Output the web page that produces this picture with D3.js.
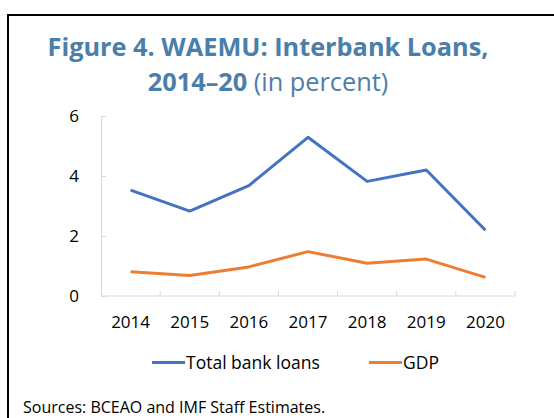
<!DOCTYPE html>
<html>
<head>
<meta charset="utf-8">
<script src="https://cdn.jsdelivr.net/npm/d3@7"></script>
<style>
  body { margin: 0; background: #fff; }
  svg { display: block; font-family: 'Open Sans', sans-serif; }
</style>
</head>
<body>
<svg width="554" height="418"></svg>
<script>
const years = ['2014', '2015', '2016', '2017', '2018', '2019', '2020'];
const totalBankLoans = [3.53, 2.83, 3.68, 5.29, 3.82, 4.2, 2.19];
const gdp = [0.81, 0.68, 0.97, 1.48, 1.09, 1.23, 0.62];
const yTicks = [0, 2, 4, 6];
const seriesNames = ['Total bank loans', 'GDP'];
const colors = ['#4472c4', '#ed7d31'];

const svg = d3.select('svg');

// frame
svg.append('rect')
  .attr('x', 8).attr('y', 15)
  .attr('width', 600).attr('height', 500)
  .attr('fill', 'none').attr('stroke', '#000').attr('stroke-width', 2);

// title
const title = svg.append('g').attr('fill', '#4a7eab').attr('text-anchor', 'middle');
title.append('text')
  .attr('x', 268).attr('y', 56)
  .attr('font-size', 25.3).attr('font-weight', 700)
  .text('Figure 4. WAEMU: Interbank Loans,');
const t2 = title.append('text').attr('x', 268).attr('y', 91).attr('font-size', 25.3);
t2.append('tspan').attr('font-weight', 700).text('2014–20');
t2.append('tspan').attr('font-weight', 400).text(' (in percent)');

const margin = { left: 101, right: 515, top: 116, bottom: 296 };

const x = d3.scaleBand().domain(years).range([margin.left, margin.right]);
const y = d3.scaleLinear().domain([0, 6]).range([margin.bottom, margin.top]);

const axisColor = '#d9d9d9';

// y axis
const yAxis = svg.append('g')
  .attr('transform', `translate(${margin.left},0)`)
  .call(d3.axisRight(y).tickValues(yTicks).tickSize(5).tickSizeOuter(0).tickFormat(d3.format('d')));
yAxis.select('.domain').attr('stroke', axisColor);
yAxis.selectAll('.tick line').attr('stroke', axisColor);
yAxis.selectAll('.tick text')
  .attr('x', -22).attr('text-anchor', 'end')
  .attr('font-size', 17).attr('fill', '#000')
  .attr('font-family', "'Open Sans', sans-serif");

// x axis: ticks at category boundaries
const xAxisG = svg.append('g');
xAxisG.append('line')
  .attr('x1', margin.left).attr('x2', margin.right)
  .attr('y1', margin.bottom).attr('y2', margin.bottom)
  .attr('stroke', axisColor);
xAxisG.selectAll('.bt')
  .data(years.slice(1).concat(['end']))
  .enter().append('line')
  .attr('x1', (d, i) => i < years.length - 1 ? x(d) : margin.right)
  .attr('x2', (d, i) => i < years.length - 1 ? x(d) : margin.right)
  .attr('y1', margin.bottom - 5).attr('y2', margin.bottom)
  .attr('stroke', axisColor);
xAxisG.selectAll('.xl')
  .data(years)
  .enter().append('text')
  .attr('x', (d) => x(d) + x.bandwidth() / 2)
  .attr('y', 328)
  .attr('text-anchor', 'middle')
  .attr('font-size', 17)
  .text((d) => d);

// lines
const line = d3.line()
  .x((d, i) => x(years[i]) + x.bandwidth() / 2)
  .y((d) => y(d));

[totalBankLoans, gdp].forEach((s, k) => {
  svg.append('path')
    .datum(s)
    .attr('d', line)
    .attr('fill', 'none')
    .attr('stroke', colors[k])
    .attr('stroke-width', 3)
    .attr('stroke-linejoin', 'round');
});

// legend
const legendX = [152, 369];
seriesNames.forEach((name, k) => {
  const g = svg.append('g').attr('transform', `translate(${legendX[k]},362.5)`);
  g.append('line').attr('x1', 0).attr('x2', 33).attr('y1', 0).attr('y2', 0)
    .attr('stroke', colors[k]).attr('stroke-width', 3);
  g.append('text').attr('x', 34).attr('y', 6).attr('font-size', 17.5).text(name);
});

// source
svg.append('text')
  .attr('x', 23).attr('y', 413)
  .attr('font-size', 16)
  .text('Sources: BCEAO and IMF Staff Estimates.');
</script>
</body>
</html>
